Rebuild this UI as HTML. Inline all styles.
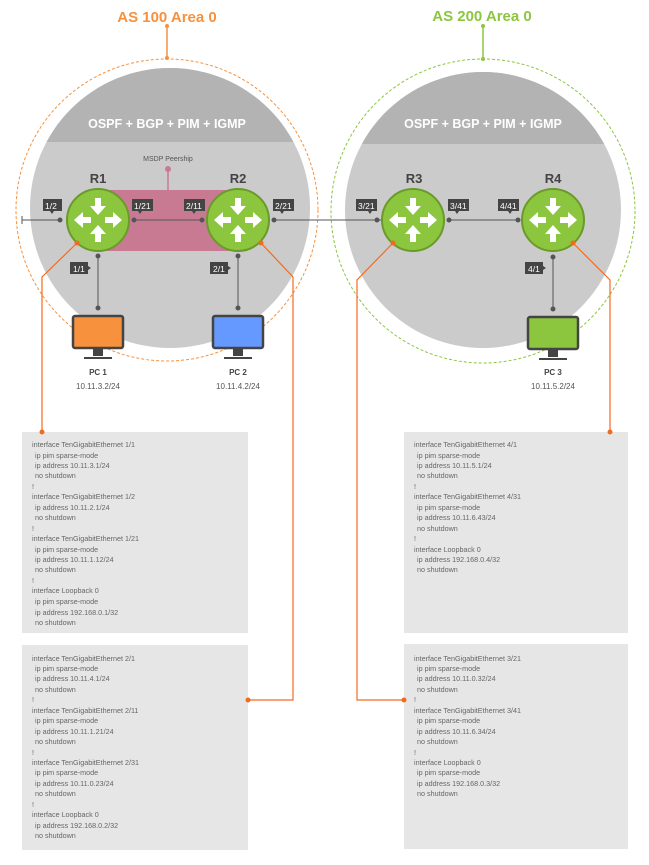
<!DOCTYPE html>
<html><head><meta charset="utf-8"><style>
html,body{margin:0;padding:0;background:#fff;}
svg{display:block;font-family:"Liberation Sans",sans-serif;}
.cfg{font-size:7.2px;fill:#666;white-space:pre;}
</style></head><body>
<svg width="649" height="865" viewBox="0 0 649 865" xmlns="http://www.w3.org/2000/svg">
<defs>
<clipPath id="c1"><circle cx="170" cy="208" r="140"/></clipPath>
<clipPath id="c2"><circle cx="483" cy="210" r="138"/></clipPath>
<g id="rt">
<circle r="31" fill="#8cc63f" stroke="#6a9a2a" stroke-width="2"/>
<path d="M-3,-22 h6 v8 h5 l-8,9 l-8,-9 h5z" fill="#fff"/>
<path d="M-3,22 h6 v-8 h5 l-8,-9 l-8,9 h5z" fill="#fff"/>
<path d="M-24,0 l9,-8 v5 h8 v6 h-8 v5z" fill="#fff"/>
<path d="M24,0 l-9,-8 v5 h-8 v6 h8 v5z" fill="#fff"/>
</g>
</defs>
<g clip-path="url(#c1)">
<rect x="0" y="0" width="330" height="400" fill="#cbcbcb"/>
<rect x="0" y="0" width="330" height="142" fill="#b3b3b3"/>
</g>
<g clip-path="url(#c2)">
<rect x="330" y="0" width="330" height="400" fill="#cbcbcb"/>
<rect x="330" y="0" width="330" height="144" fill="#b3b3b3"/>
</g>
<circle cx="167" cy="210" r="151" fill="none" stroke="#f7913d" stroke-width="1" stroke-dasharray="3,2"/>
<circle cx="483" cy="211" r="152" fill="none" stroke="#8cc63f" stroke-width="1" stroke-dasharray="3,2"/>
<text x="167" y="22" text-anchor="middle" font-size="15" font-weight="bold" fill="#f7913d">AS 100 Area 0</text>
<text x="482" y="21" text-anchor="middle" font-size="15" font-weight="bold" fill="#8cc63f">AS 200 Area 0</text>
<line x1="167" y1="26" x2="167" y2="58" stroke="#f7913d" stroke-width="1.5"/>
<circle cx="167" cy="26" r="2" fill="#f7913d"/><circle cx="167" cy="58" r="2" fill="#f7913d"/>
<line x1="483" y1="26" x2="483" y2="59" stroke="#8cc63f" stroke-width="1.5"/>
<circle cx="483" cy="26" r="2" fill="#8cc63f"/><circle cx="483" cy="59" r="2" fill="#8cc63f"/>
<text x="167" y="128" text-anchor="middle" font-size="12.5" font-weight="bold" fill="#fff">OSPF + BGP + PIM + IGMP</text>
<text x="483" y="128" text-anchor="middle" font-size="12.5" font-weight="bold" fill="#fff">OSPF + BGP + PIM + IGMP</text>
<rect x="100" y="190" width="140" height="61" fill="#c97a93"/>
<line x1="168" y1="169" x2="168" y2="190" stroke="#c97a93" stroke-width="1.5"/>
<circle cx="168" cy="169" r="3" fill="#c97a93"/>
<text x="168" y="161" text-anchor="middle" font-size="7" fill="#555">MSDP Peership</text>
<g stroke="#555" stroke-width="1" fill="#555">
<line x1="22" y1="220" x2="60" y2="220"/><line x1="22" y1="216" x2="22" y2="224"/><circle cx="60" cy="220" r="2"/>
<line x1="134" y1="220" x2="202" y2="220"/><circle cx="134" cy="220" r="2"/><circle cx="202" cy="220" r="2"/>
<line x1="274" y1="220" x2="383" y2="220"/><circle cx="274" cy="220" r="2"/><circle cx="377" cy="220" r="2"/>
<line x1="449" y1="220" x2="518" y2="220"/><circle cx="449" cy="220" r="2"/><circle cx="518" cy="220" r="2"/>
<line x1="98" y1="256" x2="98" y2="308"/><circle cx="98" cy="256" r="2"/><circle cx="98" cy="308" r="2"/>
<line x1="238" y1="256" x2="238" y2="308"/><circle cx="238" cy="256" r="2"/><circle cx="238" cy="308" r="2"/>
<line x1="553" y1="257" x2="553" y2="309"/><circle cx="553" cy="257" r="2"/><circle cx="553" cy="309" r="2"/>
</g>
<use href="#rt" x="98" y="220"/><use href="#rt" x="238" y="220"/>
<use href="#rt" x="413" y="220"/><use href="#rt" x="553" y="220"/>
<g font-size="13" font-weight="bold" fill="#444" text-anchor="middle">
<text x="98" y="183">R1</text><text x="238" y="183">R2</text>
<text x="414" y="183">R3</text><text x="553" y="183">R4</text>
</g>
<g font-size="8.5" fill="#fff">
<g fill="#444">
<rect x="43" y="199" width="19" height="12"/><path d="M50,211 l2,3 l2,-3z"/>
<rect x="132" y="199" width="21" height="12"/><path d="M138,211 l2,3 l2,-3z"/>
<rect x="184" y="199" width="21" height="12"/><path d="M192,211 l2,3 l2,-3z"/>
<rect x="273" y="199" width="21" height="12"/><path d="M280,211 l2,3 l2,-3z"/>
<rect x="356" y="199" width="21" height="12"/><path d="M368,211 l2,3 l2,-3z"/>
<rect x="448" y="199" width="21" height="12"/><path d="M455,211 l2,3 l2,-3z"/>
<rect x="498" y="199" width="21" height="12"/><path d="M508,211 l2,3 l2,-3z"/>
<rect x="70" y="262" width="18" height="12"/><path d="M88,266 l3,2 l-3,2z"/>
<rect x="210" y="262" width="18" height="12"/><path d="M228,266 l3,2 l-3,2z"/>
<rect x="525" y="262" width="18" height="12"/><path d="M543,266 l3,2 l-3,2z"/>
</g>
<text x="45" y="209">1/2</text><text x="134" y="209">1/21</text><text x="186" y="209">2/11</text>
<text x="275" y="209">2/21</text><text x="358" y="209">3/21</text><text x="450" y="209">3/41</text>
<text x="500" y="209">4/41</text><text x="73" y="272">1/1</text><text x="213" y="272">2/1</text><text x="528" y="272">4/1</text>
</g>
<g>
<rect x="73" y="316" width="50" height="32" rx="2" fill="#f7913d" stroke="#444" stroke-width="2.5"/>
<rect x="93" y="349" width="10" height="7" fill="#444"/><rect x="84" y="357" width="28" height="2" fill="#444"/>
<rect x="213" y="316" width="50" height="32" rx="2" fill="#6699ff" stroke="#444" stroke-width="2.5"/>
<rect x="233" y="349" width="10" height="7" fill="#444"/><rect x="224" y="357" width="28" height="2" fill="#444"/>
<rect x="528" y="317" width="50" height="32" rx="2" fill="#8cc63f" stroke="#444" stroke-width="2.5"/>
<rect x="548" y="350" width="10" height="7" fill="#444"/><rect x="539" y="358" width="28" height="2" fill="#444"/>
</g>
<g text-anchor="middle" font-size="8" fill="#444">
<text x="98" y="375" font-weight="bold">PC 1</text><text x="98" y="389" fill="#555">10.11.3.2/24</text>
<text x="238" y="375" font-weight="bold">PC 2</text><text x="238" y="389" fill="#555">10.11.4.2/24</text>
<text x="553" y="375" font-weight="bold">PC 3</text><text x="553" y="389" fill="#555">10.11.5.2/24</text>
</g>
<rect x="22" y="432" width="226" height="201" fill="#e6e6e6"/>
<rect x="22" y="645" width="226" height="205" fill="#e6e6e6"/>
<rect x="404" y="432" width="224" height="201" fill="#e6e6e6"/>
<rect x="404" y="644" width="224" height="205" fill="#e6e6e6"/>
<g stroke="#f26b1d" stroke-width="1.2" fill="none">
<polyline points="77,243 42,277 42,432"/>
<polyline points="261,243 293,277 293,700 248,700"/>
<polyline points="393,243 357,280 357,700 404,700"/>
<polyline points="573,243 610,280 610,432"/>
</g>
<g fill="#f26b1d">
<circle cx="77" cy="243" r="2.5"/><circle cx="42" cy="432" r="2.5"/>
<circle cx="261" cy="243" r="2.5"/><circle cx="248" cy="700" r="2.5"/>
<circle cx="393" cy="243" r="2.5"/><circle cx="404" cy="700" r="2.5"/>
<circle cx="573" cy="243" r="2.5"/><circle cx="610" cy="432" r="2.5"/>
</g>
<g class="cfg">
<text x="32" y="447">interface TenGigabitEthernet 1/1</text>
<text x="35" y="458">ip pim sparse-mode</text>
<text x="35" y="468">ip address 10.11.3.1/24</text>
<text x="35" y="478">no shutdown</text>
<text x="32" y="489">!</text>
<text x="32" y="499">interface TenGigabitEthernet 1/2</text>
<text x="35" y="510">ip address 10.11.2.1/24</text>
<text x="35" y="520">no shutdown</text>
<text x="32" y="531">!</text>
<text x="32" y="541">interface TenGigabitEthernet 1/21</text>
<text x="35" y="552">ip pim sparse-mode</text>
<text x="35" y="562">ip address 10.11.1.12/24</text>
<text x="35" y="572">no shutdown</text>
<text x="32" y="583">!</text>
<text x="32" y="593">interface Loopback 0</text>
<text x="35" y="604">ip pim sparse-mode</text>
<text x="35" y="615">ip address 192.168.0.1/32</text>
<text x="35" y="625">no shutdown</text>
</g>
<g class="cfg">
<text x="32" y="661">interface TenGigabitEthernet 2/1</text>
<text x="35" y="671">ip pim sparse-mode</text>
<text x="35" y="681">ip address 10.11.4.1/24</text>
<text x="35" y="692">no shutdown</text>
<text x="32" y="702">!</text>
<text x="32" y="713">interface TenGigabitEthernet 2/11</text>
<text x="35" y="723">ip pim sparse-mode</text>
<text x="35" y="734">ip address 10.11.1.21/24</text>
<text x="35" y="744">no shutdown</text>
<text x="32" y="755">!</text>
<text x="32" y="765">interface TenGigabitEthernet 2/31</text>
<text x="35" y="775">ip pim sparse-mode</text>
<text x="35" y="786">ip address 10.11.0.23/24</text>
<text x="35" y="796">no shutdown</text>
<text x="32" y="807">!</text>
<text x="32" y="817">interface Loopback 0</text>
<text x="35" y="828">ip address 192.168.0.2/32</text>
<text x="35" y="838">no shutdown</text>
</g>
<g class="cfg">
<text x="414" y="447">interface TenGigabitEthernet 4/1</text>
<text x="417" y="458">ip pim sparse-mode</text>
<text x="417" y="468">ip address 10.11.5.1/24</text>
<text x="417" y="478">no shutdown</text>
<text x="414" y="489">!</text>
<text x="414" y="499">interface TenGigabitEthernet 4/31</text>
<text x="417" y="510">ip pim sparse-mode</text>
<text x="417" y="520">ip address 10.11.6.43/24</text>
<text x="417" y="531">no shutdown</text>
<text x="414" y="541">!</text>
<text x="414" y="552">interface Loopback 0</text>
<text x="417" y="562">ip address 192.168.0.4/32</text>
<text x="417" y="572">no shutdown</text>
</g>
<g class="cfg">
<text x="414" y="661">interface TenGigabitEthernet 3/21</text>
<text x="417" y="671">ip pim sparse-mode</text>
<text x="417" y="681">ip address 10.11.0.32/24</text>
<text x="417" y="692">no shutdown</text>
<text x="414" y="702">!</text>
<text x="414" y="713">interface TenGigabitEthernet 3/41</text>
<text x="417" y="723">ip pim sparse-mode</text>
<text x="417" y="734">ip address 10.11.6.34/24</text>
<text x="417" y="744">no shutdown</text>
<text x="414" y="755">!</text>
<text x="414" y="765">interface Loopback 0</text>
<text x="417" y="775">ip pim sparse-mode</text>
<text x="417" y="786">ip address 192.168.0.3/32</text>
<text x="417" y="796">no shutdown</text>
</g>
</svg>
</body></html>
